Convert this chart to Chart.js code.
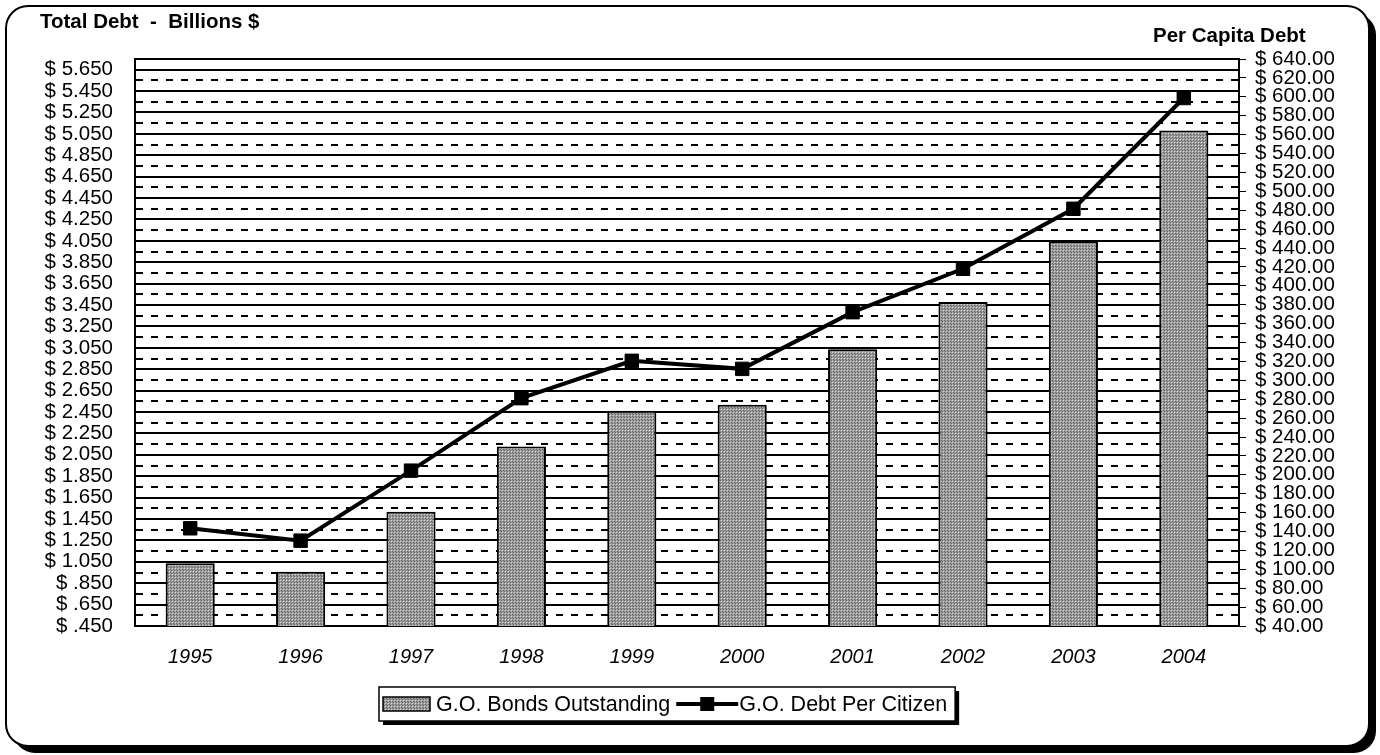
<!DOCTYPE html>
<html>
<head>
<meta charset="utf-8">
<title>G.O. Debt</title>
<script src="https://cdn.jsdelivr.net/npm/chart.js@4.4.1/dist/chart.umd.min.js"></script>
<style>
  html, body { margin: 0; padding: 0; background: #fff; }
  #wrap { width: 1380px; height: 755px; }
</style>
</head>
<body>
<div id="wrap"><canvas id="c" width="1380" height="755"></canvas></div>
<script>
// ---- data ----
const years = ['1995', '1996', '1997', '1998', '1999', '2000', '2001', '2002', '2003', '2004'];
// G.O. bonds outstanding, billions of dollars
const bondsOutstanding = [1.036, 0.958, 1.519, 2.127, 2.461, 2.517, 3.038, 3.478, 4.044, 5.082];
// G.O. debt per citizen, dollars
const debtPerCitizen = [143.4, 130.3, 204.4, 281.1, 320.6, 312.1, 372.1, 418.0, 481.5, 598.7];

const seriesNames = ['G.O. Bonds Outstanding', 'G.O. Debt Per Citizen'];
const leftTitle = 'Total Debt  -  Billions $';
const rightTitle = 'Per Capita Debt';

// axis ranges (left: billions, right: dollars per citizen)
const leftMin = 0.45, leftMax = 5.75, leftStep = 0.1;
const rightMin = 40, rightMax = 640, rightStep = 20;

const FONT = '"Liberation Sans", Arial, Helvetica, sans-serif';

// dotted gray fill for the bars
function makeDotPattern() {
  const t = document.createElement('canvas');
  t.width = 3; t.height = 3;
  const g = t.getContext('2d');
  g.fillStyle = '#9c9c9c';
  g.fillRect(0, 0, 3, 3);
  g.fillStyle = '#d8d8d8';
  g.fillRect(1, 1, 1, 1);
  g.fillStyle = '#666666';
  g.fillRect(0, 0, 1, 1);
  g.fillRect(2, 2, 1, 1);
  return g.createPattern(t, 'repeat');
}
const dotFill = makeDotPattern();

function fmtBillions(v) {
  let s = v.toFixed(3);
  if (s.startsWith('0')) s = s.slice(1);
  return '$ ' + s;
}
function fmtDollars(v) {
  return '$ ' + v.toFixed(2);
}

function roundRectPath(ctx, x, y, w, h, r) {
  ctx.beginPath();
  ctx.moveTo(x + r, y);
  ctx.lineTo(x + w - r, y);
  ctx.arcTo(x + w, y, x + w, y + r, r);
  ctx.lineTo(x + w, y + h - r);
  ctx.arcTo(x + w, y + h, x + w - r, y + h, r);
  ctx.lineTo(x + r, y + h);
  ctx.arcTo(x, y + h, x, y + h - r, r);
  ctx.lineTo(x, y + r);
  ctx.arcTo(x, y, x + r, y, r);
  ctx.closePath();
}

// rounded frame with a drop shadow behind everything
const framePlugin = {
  id: 'frame',
  beforeDraw(chart) {
    const ctx = chart.ctx;
    ctx.save();
    ctx.fillStyle = '#fff';
    ctx.fillRect(0, 0, chart.width, chart.height);
    roundRectPath(ctx, 13, 13, 1363, 740, 22);
    ctx.fillStyle = '#000';
    ctx.fill();
    roundRectPath(ctx, 6, 6, 1363, 740, 22);
    ctx.fillStyle = '#fff';
    ctx.fill();
    ctx.lineWidth = 2;
    ctx.strokeStyle = '#000';
    ctx.stroke();
    ctx.restore();
  }
};

// axis titles and the boxed legend
const annotPlugin = {
  id: 'annot',
  afterDraw(chart) {
    const ctx = chart.ctx;
    ctx.save();
    ctx.fillStyle = '#000';
    ctx.font = 'bold 20.5px ' + FONT;
    ctx.textBaseline = 'alphabetic';
    ctx.textAlign = 'left';
    ctx.fillText(leftTitle, 40, 28);
    ctx.fillText(rightTitle, 1153, 42);

    // legend
    const bar = chart.data.datasets[1];
    const line = chart.data.datasets[0];
    ctx.font = '21.5px ' + FONT;
    const lx = 379, ly = 687, lh = 34;
    const sw = 47, gap = 6, lineW = 62;
    const w1 = ctx.measureText(bar.label).width;
    const w2 = ctx.measureText(line.label).width;
    const lw = 4 + sw + gap + w1 + 6 + lineW + 1 + w2 + 8;
    ctx.fillStyle = '#000';
    ctx.fillRect(lx + 4, ly + 4, lw, lh);
    ctx.fillStyle = '#fff';
    ctx.fillRect(lx, ly, lw, lh);
    ctx.lineWidth = 1.5;
    ctx.strokeStyle = '#000';
    ctx.strokeRect(lx, ly, lw, lh);

    const cy = ly + lh / 2;
    let x = lx + 4;
    ctx.fillStyle = bar.backgroundColor;
    ctx.fillRect(x, cy - 7, sw, 14);
    ctx.lineWidth = 1.5;
    ctx.strokeRect(x, cy - 7, sw, 14);
    x += sw + gap;
    ctx.fillStyle = '#000';
    ctx.textBaseline = 'middle';
    ctx.fillText(bar.label, x, cy + 1);
    x += w1 + 6;
    ctx.lineWidth = 4;
    ctx.beginPath();
    ctx.moveTo(x, cy);
    ctx.lineTo(x + lineW, cy);
    ctx.stroke();
    ctx.fillRect(x + lineW / 2 - 7, cy - 7, 14, 14);
    x += lineW + 1;
    ctx.fillText(line.label, x, cy + 1);
    ctx.restore();
  }
};

new Chart(document.getElementById('c'), {
  data: {
    labels: years,
    datasets: [
      {
        type: 'line',
        label: seriesNames[1],
        data: debtPerCitizen,
        yAxisID: 'y1',
        order: 0,
        borderColor: '#000',
        borderWidth: 4,
        tension: 0,
        pointStyle: 'rect',
        pointRadius: 9.5,
        pointBorderWidth: 1,
        pointBackgroundColor: '#000',
        pointBorderColor: '#000'
      },
      {
        type: 'bar',
        label: seriesNames[0],
        data: bondsOutstanding,
        yAxisID: 'y',
        order: 1,
        backgroundColor: dotFill,
        borderColor: '#000',
        borderWidth: 2,
        categoryPercentage: 1,
        barPercentage: 0.445
      }
    ]
  },
  options: {
    responsive: false,
    animation: false,
    layout: { padding: { top: 59, left: 0, right: 0, bottom: 0 } },
    plugins: {
      legend: { display: false },
      tooltip: { enabled: false },
      title: { display: false }
    },
    scales: {
      x: {
        offset: true,
        grid: { drawOnChartArea: false, drawTicks: false },
        border: { display: true, color: '#000', width: 2 },
        ticks: {
          color: '#000',
          padding: 19,
          font: { family: FONT, size: 20, style: 'italic' },
          maxRotation: 0
        },
        afterFit(s) { s.height = 129; }
      },
      y: {
        position: 'left',
        min: leftMin,
        max: leftMax,
        ticks: {
          stepSize: leftStep,
          autoSkip: false,
          color: '#000',
          padding: 22,
          font: { family: FONT, size: 20.5 },
          callback: (v, i) => (i % 2 === 0 ? fmtBillions(v) : '')
        },
        grid: {
          drawTicks: false,
          color: '#000',
          lineWidth: 2
        },
        border: {
          display: true,
          color: '#000',
          width: 2,
          dash: (ctx) => {
            if (ctx.index === undefined) return [];
            const last = Math.round((leftMax - leftMin) / leftStep);
            return (ctx.index % 2 === 1 && ctx.index !== last) ? [7, 8] : [];
          }
        },
        afterFit(s) { s.width = 135; }
      },
      y1: {
        position: 'right',
        min: rightMin,
        max: rightMax,
        ticks: {
          stepSize: rightStep,
          autoSkip: false,
          color: '#000',
          padding: 9,
          font: { family: FONT, size: 20.5 },
          callback: (v) => fmtDollars(v)
        },
        grid: {
          drawOnChartArea: false,
          drawTicks: true,
          tickLength: 7,
          color: '#000',
          lineWidth: 1
        },
        border: { display: true, color: '#000', width: 2 },
        afterFit(s) { s.width = 141; }
      }
    }
  },
  plugins: [framePlugin, annotPlugin]
});
</script>
</body>
</html>
